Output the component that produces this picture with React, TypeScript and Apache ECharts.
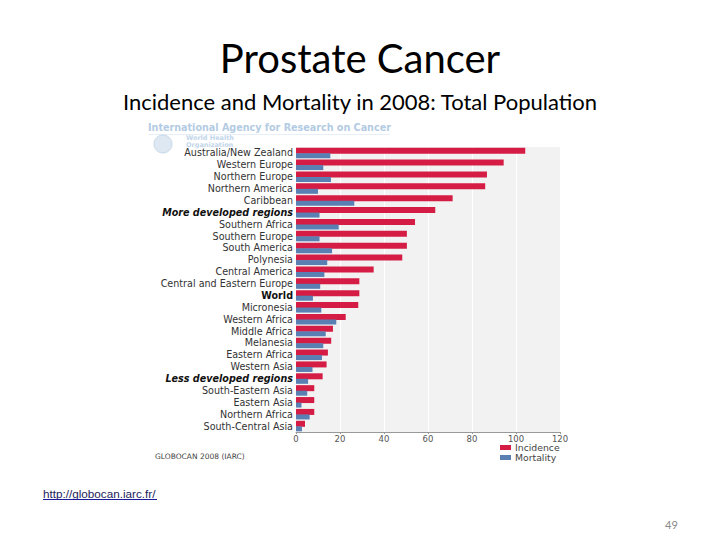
import React, { useEffect, useRef } from "react";
import * as echarts from "echarts";

const categories = [
  "Australia/New Zealand",
  "Western Europe",
  "Northern Europe",
  "Northern America",
  "Caribbean",
  "More developed regions",
  "Southern Africa",
  "Southern Europe",
  "South America",
  "Polynesia",
  "Central America",
  "Central and Eastern Europe",
  "World",
  "Micronesia",
  "Western Africa",
  "Middle Africa",
  "Melanesia",
  "Eastern Africa",
  "Western Asia",
  "Less developed regions",
  "South-Eastern Asia",
  "Eastern Asia",
  "Northern Africa",
  "South-Central Asia",
];

const incidence = [104.2, 94.4, 86.8, 86.0, 71.2, 63.3, 54.1, 50.4, 50.4, 48.3, 35.3, 28.8, 28.8, 28.3, 22.6, 16.8, 16.0, 14.5, 13.9, 12.1, 8.3, 8.3, 8.3, 4.1];
const mortality = [15.6, 12.4, 15.9, 10.0, 26.5, 10.7, 19.4, 10.7, 16.4, 14.2, 12.9, 11.0, 7.7, 11.5, 18.3, 13.5, 12.4, 11.8, 7.5, 5.5, 5.1, 2.5, 6.2, 2.7];

const boldItalic = ["More developed regions", "Less developed regions"];
const boldOnly = ["World"];

const xTicks = { min: 0, max: 120, interval: 20 };

export default function App() {
  const ref = useRef<HTMLDivElement>(null);
  useEffect(() => {
    if (!ref.current) return;
    const chart = echarts.init(ref.current, null, { renderer: "svg" });
    const lab = "DejaVu Sans, sans-serif";
    const lfs = 9.6;
    chart.setOption({
      animation: false,
      backgroundColor: "#ffffff",
      title: [
        {
          text: "Prostate Cancer",
          left: "center",
          top: 33,
          textStyle: { fontFamily: "Lato, sans-serif", fontSize: 40, fontWeight: "normal", color: "#000" },
        },
        {
          text: "Incidence and Mortality in 2008: Total Population",
          left: "center",
          top: 85,
          textStyle: { fontFamily: "Lato, sans-serif", fontSize: 22, fontWeight: "normal", color: "#000" },
        },
      ],
      legend: {
        data: ["Incidence", "Mortality"],
        orient: "vertical",
        left: 500,
        top: 443,
        padding: 0,
        itemWidth: 11,
        itemHeight: 5,
        itemGap: 1,
        icon: "rect",
        textStyle: { fontFamily: lab, fontSize: 9.3, lineHeight: 8, color: "#444", padding: [0, 0, 0, -1] },
      },
      grid: {
        left: 296,
        right: 160,
        top: 147,
        bottom: 108,
        show: true,
        backgroundColor: "#f2f2f2",
        borderWidth: 0,
        containLabel: false,
      },
      xAxis: {
        type: "value",
        min: xTicks.min,
        max: xTicks.max,
        interval: xTicks.interval,
        axisLine: { show: true, lineStyle: { color: "#999", width: 1 } },
        axisTick: { show: true, length: 2, lineStyle: { color: "#999" } },
        splitLine: { show: true, lineStyle: { color: "#ffffff", width: 1 } },
        axisLabel: { fontFamily: lab, fontSize: 8.5, color: "#555", margin: 2 },
      },
      yAxis: {
        type: "category",
        data: categories,
        inverse: true,
        axisLine: { show: false },
        axisTick: { show: false },
        axisLabel: {
          interval: 0,
          margin: 3,
          fontFamily: lab,
          fontSize: lfs,
          color: "#333",
          formatter: (v: string) =>
            boldItalic.includes(v) ? `{bi|${v}}` : boldOnly.includes(v) ? `{b|${v}}` : v,
          rich: {
            bi: { fontFamily: lab, fontSize: lfs, fontWeight: "bold", fontStyle: "italic", color: "#111" },
            b: { fontFamily: lab, fontSize: lfs, fontWeight: "bold", color: "#111" },
          },
        },
      },
      series: [
        {
          name: "Incidence",
          type: "bar",
          data: incidence,
          barWidth: 6,
          barGap: "-8%",
          itemStyle: { color: "#d41c44" },
        },
        {
          name: "Mortality",
          type: "bar",
          data: mortality,
          barWidth: 5,
          itemStyle: { color: "#5a7fb3" },
        },
      ],
      graphic: [
        {
          type: "text",
          left: 148,
          top: 122,
          style: {
            text: "International Agency for Research on Cancer",
            fontFamily: lab,
            fontSize: 9.6,
            fontWeight: "bold",
            fill: "#b3cbe3",
          },
        },
        {
          type: "line",
          shape: { x1: 148, y1: 134.5, x2: 390, y2: 134.5 },
          style: { stroke: "#e6eef7", lineWidth: 1 },
        },
        {
          type: "circle",
          shape: { cx: 163, cy: 144, r: 9 },
          style: { fill: "#dde8f3", stroke: "#c6d7ea", lineWidth: 1 },
        },
        {
          type: "text",
          left: 186,
          top: 134.5,
          style: {
            text: "World Health\nOrganization",
            fontFamily: lab,
            fontSize: 6.5,
            fontWeight: "bold",
            lineHeight: 6.8,
            fill: "#c2d5ea",
          },
        },
        {
          type: "text",
          left: 155,
          top: 452,
          style: { text: "GLOBOCAN 2008 (IARC)", fontFamily: lab, fontSize: 7.5, fill: "#444" },
        },
        {
          type: "text",
          left: 43,
          top: 487,
          style: { text: "http://globocan.iarc.fr/", fontFamily: "Liberation Sans, Arial, sans-serif", fontSize: 11.7, fill: "#1c1c5c" },
        },
        {
          type: "line",
          shape: { x1: 43, y1: 499.5, x2: 157, y2: 499.5 },
          style: { stroke: "#1a1a9a", lineWidth: 1 },
        },
        {
          type: "text",
          left: 665,
          top: 519,
          style: { text: "49", fontFamily: "Lato, sans-serif", fontSize: 11, fill: "#8a8a8a" },
        },
      ],
    });
    return () => chart.dispose();
  }, []);
  return (
    <div
      ref={ref}
      style={{ position: "fixed", left: 0, top: 0, width: 720, height: 540, background: "#fff" }}
    />
  );
}
